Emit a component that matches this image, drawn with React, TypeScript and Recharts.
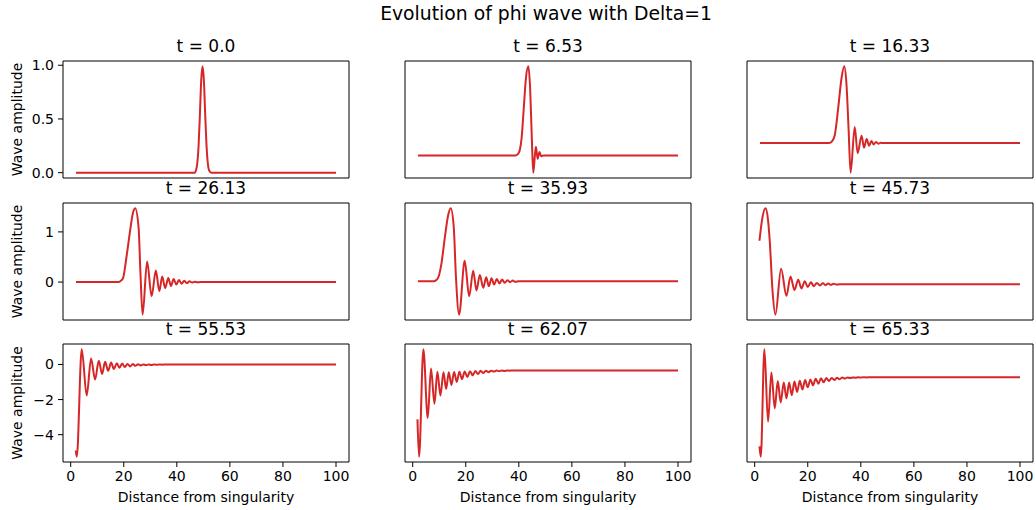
import React from "react";
import { LineChart, Line, XAxis, YAxis, ReferenceArea, Label } from "recharts";

const suptitle = "Evolution of phi wave with Delta=1";
const times = ["0.0", "6.53", "16.33", "26.13", "35.93", "45.73", "55.53", "62.07", "65.33"];
const xTicks = [0, 20, 40, 60, 80, 100];
const xDomain: [number, number] = [-2.9, 104.9];

// snapshots: [distance, amplitude]
const wave0: [number, number][] = [
  [2, 0], [46.8, 0], [47.2, 0.02], [47.7, 0.085], [48.2, 0.25], [48.7, 0.54], [49.2, 0.86], [49.7, 0.99],
  [50.2, 0.86], [50.7, 0.54], [51.2, 0.25], [51.7, 0.085], [52.2, 0.02], [53, 0], [100, 0],
];
const wave1: [number, number][] = [
  [2, 0], [38.8, 0], [39.8, 0.02], [40.5, 0.08], [41.05, 0.2], [41.9, 0.56], [42.7, 0.9], [43.6, 1.03],
  [44.3, 0.75], [44.9, 0.2], [45.45, -0.2], [46.0, -0.02], [46.45, 0.1], [47.1, -0.04], [47.8, 0.04],
  [48.4, -0.01], [49.2, 0], [100, 0],
];
const wave2: [number, number][] = [
  [2, 0], [28, 0], [29.2, 0.03], [30.2, 0.12], [31.5, 0.53], [32.75, 0.97], [33.75, 1.14], [34.6, 0.87],
  [35.4, 0.2], [36.15, -0.44], [37.7, 0.24], [38.8, -0.15], [40.3, 0.11], [41.2, -0.07], [42.2, 0.06],
  [43.1, -0.04], [44, 0.03], [44.8, -0.02], [45.7, 0.015], [46.6, -0.01], [47.5, 0.005], [48.5, 0], [100, 0],
];
const wave3: [number, number][] = [
  [2, 0], [18, 0], [19, 0.03], [19.8, 0.09], [21, 0.49], [22.55, 1.08], [23.4, 1.36], [24.3, 1.47],
  [25.6, 1.08], [26.3, 0.17], [27.1, -0.65], [28.8, 0.41], [30.5, -0.28], [32.1, 0.23], [33.4, -0.18],
  [34.5, 0.11], [35.6, -0.12], [36.8, 0.08], [37.8, -0.08], [38.8, 0.06], [39.8, -0.05], [40.8, 0.04],
  [41.8, -0.035], [42.8, 0.025], [43.8, -0.02], [44.8, 0.015], [45.8, -0.01], [46.8, 0.008], [47.8, -0.005],
  [49, 0], [100, 0],
];
const wave4: [number, number][] = [
  [2, 0], [8, 0], [8.8, 0.015], [9.57, 0.05], [10.8, 0.26], [12.1, 0.66], [13.35, 1.0], [14.36, 1.11],
  [15.5, 0.81], [16.25, 0.11], [17.5, -0.51], [19.6, 0.31], [21.3, -0.23], [22.8, 0.16], [24.05, -0.14],
  [25.3, 0.095], [26.6, -0.1], [27.7, 0.06], [28.7, -0.075], [29.7, 0.045], [30.7, -0.05], [31.7, 0.035],
  [32.7, -0.035], [33.7, 0.025], [34.7, -0.025], [35.7, 0.015], [36.7, -0.015], [37.7, 0.01], [38.7, -0.01],
  [40, 0], [100, 0],
];
const wave5: [number, number][] = [
  [1.8, 0.67], [2.8, 1.0], [4.1, 1.17], [5, 1.0], [5.67, 0.67], [6.7, -0.09], [7.8, -0.47], [9.95, 0.24],
  [11.97, -0.18], [13.5, 0.12], [15, -0.09], [16.4, 0.07], [17.6, -0.065], [18.9, 0.045], [20, -0.045],
  [21.2, 0.03], [22.3, -0.03], [23.4, 0.02], [24.6, -0.02], [25.7, 0.015], [26.7, -0.015], [27.7, 0.01],
  [28.7, -0.01], [29.7, 0.006], [30.7, -0.006], [32, 0], [100, 0],
];
const wave6: [number, number][] = [
  [1.9, -4.9], [2.3, -5.25], [4.16, 0.86], [6.04, -1.77], [7.68, 0.34], [9.2, -0.86], [10.58, 0.21],
  [11.84, -0.54], [12.97, 0.15], [14.1, -0.36], [15.24, 0.11], [16.25, -0.26], [17.4, 0.07], [18.4, -0.19],
  [19.4, 0.05], [20.4, -0.15], [21.4, 0.03], [22.4, -0.11], [23.4, 0.02], [24.4, -0.08], [25.4, 0.01],
  [26.4, -0.06], [27.4, 0.005], [28.4, -0.04], [29.4, 0], [30.4, -0.03], [31.4, 0], [32.4, -0.02],
  [33.4, 0], [34.4, -0.01], [36, 0], [100, 0],
];
const wave7: [number, number][] = [
  [1.8, -2.6], [2.4, -4.58], [4.03, 1.12], [5.67, -2.53], [6.9, 0.1], [8.2, -1.77], [9.3, -0.07],
  [10.45, -1.33], [11.6, -0.1], [12.6, -0.98], [13.6, -0.1], [14.6, -0.77], [15.6, -0.08], [16.6, -0.61],
  [17.6, -0.07], [18.6, -0.46], [19.6, -0.05], [20.6, -0.35], [21.6, -0.04], [22.6, -0.26], [23.6, -0.03],
  [24.6, -0.19], [25.6, -0.02], [26.6, -0.14], [27.6, -0.015], [28.6, -0.09], [29.6, -0.01], [30.6, -0.06],
  [31.6, -0.008], [32.6, -0.04], [33.6, -0.005], [34.6, -0.025], [35.6, 0], [36.6, -0.015], [37.6, 0],
  [38.6, -0.008], [40, 0], [100, 0],
];
const wave8: [number, number][] = [
  [1.8, -3.15], [2.3, -3.62], [3.66, 1.27], [5.03, -2.03], [6.3, 0.21], [7.56, -1.42], [8.7, -0.17],
  [9.8, -1.15], [10.96, -0.24], [11.97, -0.97], [12.97, -0.24], [13.98, -0.82], [14.98, -0.2], [15.99, -0.67],
  [17, -0.16], [18, -0.56], [19, -0.13], [20, -0.46], [21, -0.1], [22, -0.37], [23, -0.07], [24, -0.3],
  [25, -0.05], [26, -0.23], [27, -0.04], [28, -0.17], [29, -0.03], [30, -0.13], [31, -0.02], [32, -0.09],
  [33, -0.015], [34, -0.06], [35, -0.01], [36, -0.04], [37, -0.008], [38, -0.025], [39, -0.005],
  [40, -0.015], [41, 0], [42, -0.008], [44, 0], [100, 0],
];

const yTicks0 = [0, 0.5, 1];
const yTicks1 = [0, 0.5, 1];
const yTicks2 = [-0.5, 0, 0.5, 1];
const yTicks3 = [0, 1];
const yTicks4 = [-0.5, 0, 0.5, 1];
const yTicks5 = [-0.5, 0, 0.5, 1];
const yTicks6 = [-4, -2, 0];
const yTicks7 = [-4, -2, 0];
const yTicks8 = [-2, 0];

const waves = [wave0, wave1, wave2, wave3, wave4, wave5, wave6, wave7, wave8];
const yTicks = [yTicks0, yTicks1, yTicks2, yTicks3, yTicks4, yTicks5, yTicks6, yTicks7, yTicks8];

const colLeft = [63, 405, 747];
const rowTop = [61, 203, 344];
const rowH = [117, 117, 118];
const PW = 286;
const RED = "#d62728";
const INK = "#000";

const fmt = (i: number) => (v: number) => {
  const s = i === 0 ? v.toFixed(1) : String(v);
  return s.replace("-", "\u2212");
};

function Panel({ i }: { i: number }) {
  const row = Math.floor(i / 3);
  const col = i % 3;
  const pts = waves[i].map(([x, y]) => ({ x, y }));
  const ys = waves[i].map((p) => p[1]);
  const lo = Math.min(...ys);
  const hi = Math.max(...ys);
  const pad = (hi - lo) * 0.05;
  const dom: [number, number] = [lo - pad, hi + pad];
  const h = rowH[row];
  const bottomRow = row === 2;
  const firstCol = col === 0;

  return (
    <div style={{ position: "absolute", left: colLeft[col] - 60, top: rowTop[row] - 5 }}>
      <LineChart width={60 + PW + 5} height={5 + h + 45} data={pts} margin={{ top: 5, right: 5, left: 0, bottom: 0 }}>
        <XAxis
          dataKey="x"
          type="number"
          domain={xDomain}
          ticks={xTicks}
          interval={0}
          allowDataOverflow
          axisLine={false}
          tickLine={{ stroke: INK }}
          tickSize={5}
          tickMargin={4}
          height={45}
          tick={bottomRow ? { fill: INK, fontSize: 14 } : false}
        >
          {bottomRow && (
            <Label value="Distance from singularity" position="insideBottom" offset={5} fill={INK} fontSize={14} />
          )}
        </XAxis>
        <YAxis
          type="number"
          domain={dom}
          ticks={yTicks[i]}
          interval={0}
          allowDataOverflow
          width={60}
          axisLine={false}
          tickLine={{ stroke: INK }}
          tickSize={5}
          tickMargin={4}
          tickFormatter={fmt(i)}
          tick={firstCol ? { fill: INK, fontSize: 14 } : false}
        >
          {firstCol && (
            <Label
              value="Wave amplitude"
              angle={-90}
              position="insideLeft"
              offset={14}
              fill={INK}
              fontSize={14}
              style={{ textAnchor: "middle" }}
            />
          )}
        </YAxis>
        <ReferenceArea
          x1={xDomain[0]}
          x2={xDomain[1]}
          y1={dom[0]}
          y2={dom[1]}
          fill="none"
          stroke={INK}
          strokeWidth={1}
          ifOverflow="visible"
        />
        <Line type="monotone" dataKey="y" stroke={RED} strokeWidth={2} dot={false} isAnimationActive={false} />
      </LineChart>
    </div>
  );
}

export default function App() {
  return (
    <div
      style={{
        position: "absolute",
        left: 0,
        top: 0,
        width: 1036,
        height: 510,
        background: "#fff",
        fontFamily: "'DejaVu Sans', sans-serif",
        color: INK,
      }}
    >
      {waves.map((_, i) => (
        <Panel key={i} i={i} />
      ))}
      {times.map((t, i) => (
        <div
          key={"t" + i}
          style={{
            position: "absolute",
            left: colLeft[i % 3],
            width: PW,
            top: rowTop[Math.floor(i / 3)] - 25,
            textAlign: "center",
            fontSize: 17,
            lineHeight: "20px",
            whiteSpace: "nowrap",
          }}
        >
          {"t = " + t}
        </div>
      ))}
      <div
        style={{
          position: "absolute",
          left: 246,
          width: 600,
          top: 3,
          textAlign: "center",
          fontSize: 18.8,
          lineHeight: "22px",
        }}
      >
        {suptitle}
      </div>
    </div>
  );
}
